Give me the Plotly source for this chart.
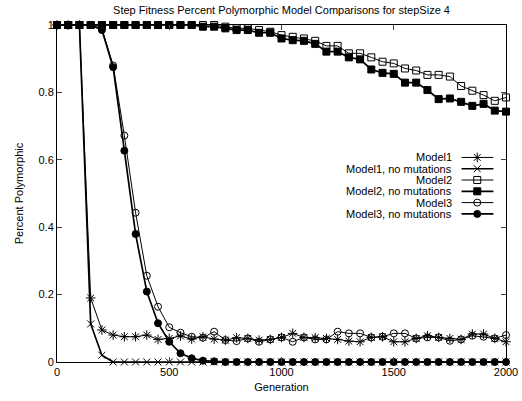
import plotly.graph_objects as go

generations = list(range(0, 2001, 50))

model1 = [1, 1, 1, 0.19, 0.095, 0.08, 0.075, 0.075, 0.08, 0.067, 0.07, 0.077, 0.068, 0.075,
          0.068, 0.065, 0.072, 0.07, 0.065, 0.067, 0.073, 0.085, 0.073, 0.072, 0.07, 0.067,
          0.062, 0.06, 0.073, 0.075, 0.06, 0.06, 0.07, 0.078, 0.073, 0.07, 0.067, 0.083,
          0.083, 0.07, 0.06]
model1_nomut = [1, 1, 1, 0.113, 0.02] + [0] * 36
model2 = [1] * 15 + [0.995, 0.99, 0.99, 0.985, 0.98, 0.97, 0.965, 0.96, 0.953, 0.938, 0.938,
                     0.916, 0.916, 0.904, 0.891, 0.886, 0.871, 0.865, 0.852, 0.852, 0.847,
                     0.819, 0.805, 0.792, 0.775, 0.785]
model2_nomut = [1] * 13 + [0.995, 0.995, 0.99, 0.985, 0.985, 0.977, 0.977, 0.96, 0.955, 0.953,
                           0.944, 0.921, 0.921, 0.904, 0.898, 0.868, 0.858, 0.855, 0.829,
                           0.829, 0.807, 0.78, 0.782, 0.772, 0.76, 0.766, 0.746, 0.743]
model3 = [1, 1, 1, 1, 0.99, 0.88, 0.672, 0.443, 0.256, 0.164, 0.103, 0.087, 0.075, 0.072,
          0.09, 0.065, 0.062, 0.07, 0.06, 0.067, 0.073, 0.06, 0.073, 0.067, 0.067, 0.09,
          0.085, 0.085, 0.073, 0.075, 0.085, 0.085, 0.07, 0.073, 0.073, 0.063, 0.067,
          0.078, 0.075, 0.07, 0.08]
model3_nomut = [1, 1, 1, 1, 0.985, 0.875, 0.627, 0.38, 0.209, 0.115, 0.06, 0.026, 0.011,
                0.004, 0.002] + [0] * 26

series_names = ["Model1", "Model1, no mutations", "Model2", "Model2, no mutations",
                "Model3", "Model3, no mutations"]
series_values = [model1, model1_nomut, model2, model2_nomut, model3, model3_nomut]
series_symbols = ["asterisk-open", "x-thin-open", "square-open", "square",
                  "circle-open", "circle"]
series_line_widths = [1, 1.7, 1, 1.7, 1, 1.7]
series_marker_sizes = [8, 7, 7, 7, 7, 7]

x_ticks = [0, 500, 1000, 1500, 2000]
y_ticks = [0, 0.2, 0.4, 0.6, 0.8, 1]
y_tick_labels = ["0", "0.2", "0.4", "0.6", "0.8", "1"]

FONT = "Liberation Sans, Arial, sans-serif"

fig = go.Figure()
for name, vals, sym, lw, ms in zip(series_names, series_values, series_symbols,
                                   series_line_widths, series_marker_sizes):
    fig.add_trace(go.Scatter(
        x=generations, y=vals, mode="lines+markers", name=name,
        line=dict(color="black", width=lw),
        marker=dict(symbol=sym, size=ms, color="black", line=dict(color="black", width=1)),
        showlegend=False, cliponaxis=False))

# custom gnuplot-style key (text right aligned, sample to the right)
key_top = 0.607
key_step = 0.0335
for i, (name, sym, lw, ms) in enumerate(zip(series_names, series_symbols,
                                            series_line_widths, series_marker_sizes)):
    ky = key_top - i * key_step
    fig.add_trace(go.Scatter(
        x=[0.901, 0.972], y=[ky, ky], mode="lines", xaxis="x2", yaxis="y2",
        line=dict(color="black", width=lw), showlegend=False, hoverinfo="skip"))
    fig.add_trace(go.Scatter(
        x=[0.936], y=[ky], mode="markers", xaxis="x2", yaxis="y2",
        marker=dict(symbol=sym, size=ms, color="black", line=dict(color="black", width=1)),
        showlegend=False, hoverinfo="skip"))
    fig.add_annotation(text=name, x=0.884, y=ky, xref="x2", yref="y2",
                       xanchor="right", yanchor="middle", showarrow=False,
                       font=dict(family=FONT, size=11, color="black"))

fig.update_layout(
    width=522, height=401,
    margin=dict(l=57, r=16, t=25, b=39, autoexpand=False),
    paper_bgcolor="white", plot_bgcolor="white",
    font=dict(family=FONT, size=11, color="black"),
    title=dict(text="Step Fitness Percent Polymorphic Model Comparisons for stepSize 4",
               x=0.5, xref="paper", xanchor="center", y=0.975, yanchor="middle",
               font=dict(family=FONT, size=11, color="black")),
    xaxis=dict(range=[0, 2000], tickvals=x_ticks, ticks="inside", ticklen=5,
               showline=True, linecolor="black", linewidth=1, mirror="ticks",
               showgrid=False, zeroline=False, automargin=False,
               title=dict(text="Generation", standoff=6, font=dict(size=11)),
               tickfont=dict(size=11)),
    yaxis=dict(range=[0, 1], tickvals=y_ticks, ticktext=y_tick_labels, ticks="inside",
               ticklen=5, showline=True, linecolor="black", linewidth=1, mirror="ticks",
               showgrid=False, zeroline=False, automargin=False,
               title=dict(text="Percent Polymorphic", standoff=12, font=dict(size=11)),
               tickfont=dict(size=11)),
    xaxis2=dict(overlaying="x", range=[0, 1], visible=False),
    yaxis2=dict(overlaying="y", range=[0, 1], visible=False),
)

fig.write_html("out.html", config={"displayModeBar": False},
               post_script="document.body.style.margin='0';")
